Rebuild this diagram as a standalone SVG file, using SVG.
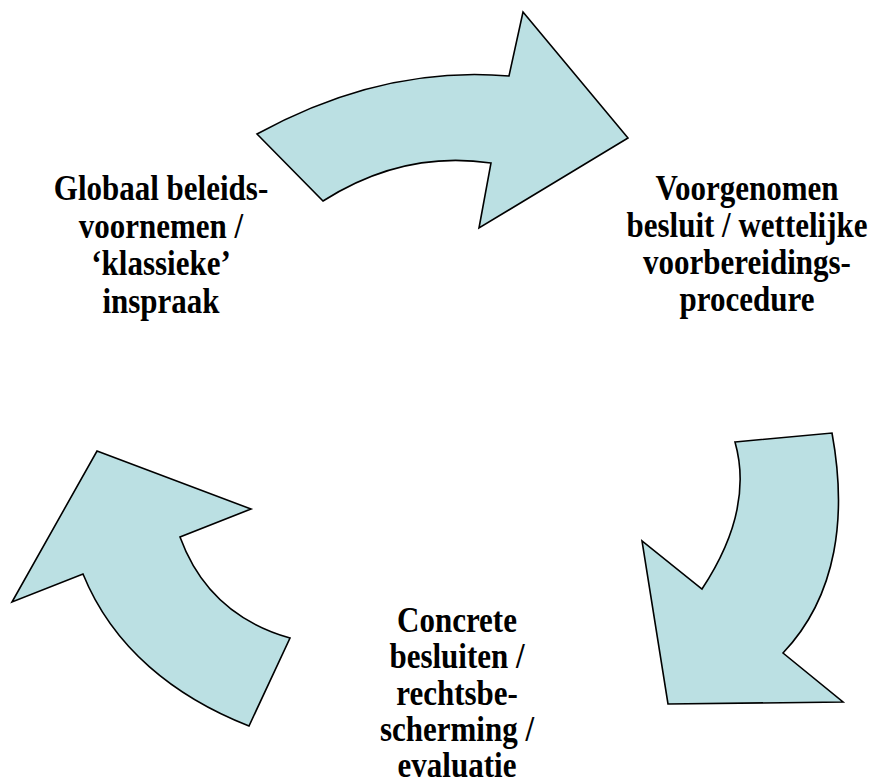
<svg xmlns="http://www.w3.org/2000/svg" width="877" height="780" viewBox="0 0 877 780">
<style>
.arrow{fill:#BBE0E3;stroke:#000;stroke-width:1.6;stroke-linejoin:miter}
.lbl{font-family:"Liberation Serif","Times New Roman",serif;font-weight:bold;font-size:35px;fill:#000;text-anchor:middle}
</style>
<rect width="877" height="780" fill="#fff"/>
<g id="connectors">
<path id="arrow-top" class="arrow" d="M257,134 Q383,65 509,76 L523,12 L628,138 L479,228 L491,163 Q403,150 323,201 Z"/>
<path id="arrow-right" class="arrow" d="M735,442 L832,433 C847,515 838,595 783,653 L843,702 L668,704 L642,541 L702,589 C737,536 748,488 735,442 Z"/>
<path id="arrow-left" class="arrow" d="M97,451 L251,509 L180,537 C199,589 237,623 290,638 L249,726 C175,697 113,648 83,574 L12,602 Z"/>
</g>
<g id="node-globaal" transform="translate(161,0) scale(0.886,1)">
<text class="lbl" x="0" y="200.5">Globaal beleids-</text>
<text class="lbl" x="0" y="238">voornemen /</text>
<text class="lbl" x="0" y="275.5">‘klassieke’</text>
<text class="lbl" x="0" y="313">inspraak</text>
</g>
<g id="node-voorgenomen" transform="translate(747,0) scale(0.886,1)">
<text class="lbl" x="0" y="200">Voorgenomen</text>
<text class="lbl" x="0" y="237">besluit / wettelijke</text>
<text class="lbl" x="0" y="274">voorbereidings-</text>
<text class="lbl" x="0" y="311.5">procedure</text>
</g>
<g id="node-concrete" transform="translate(457,0) scale(0.886,1)">
<text class="lbl" x="0" y="632">Concrete</text>
<text class="lbl" x="0" y="668.5">besluiten /</text>
<text class="lbl" x="0" y="705">rechtsbe-</text>
<text class="lbl" x="0" y="741">scherming /</text>
<text class="lbl" x="0" y="777">evaluatie</text>
</g>
</svg>
